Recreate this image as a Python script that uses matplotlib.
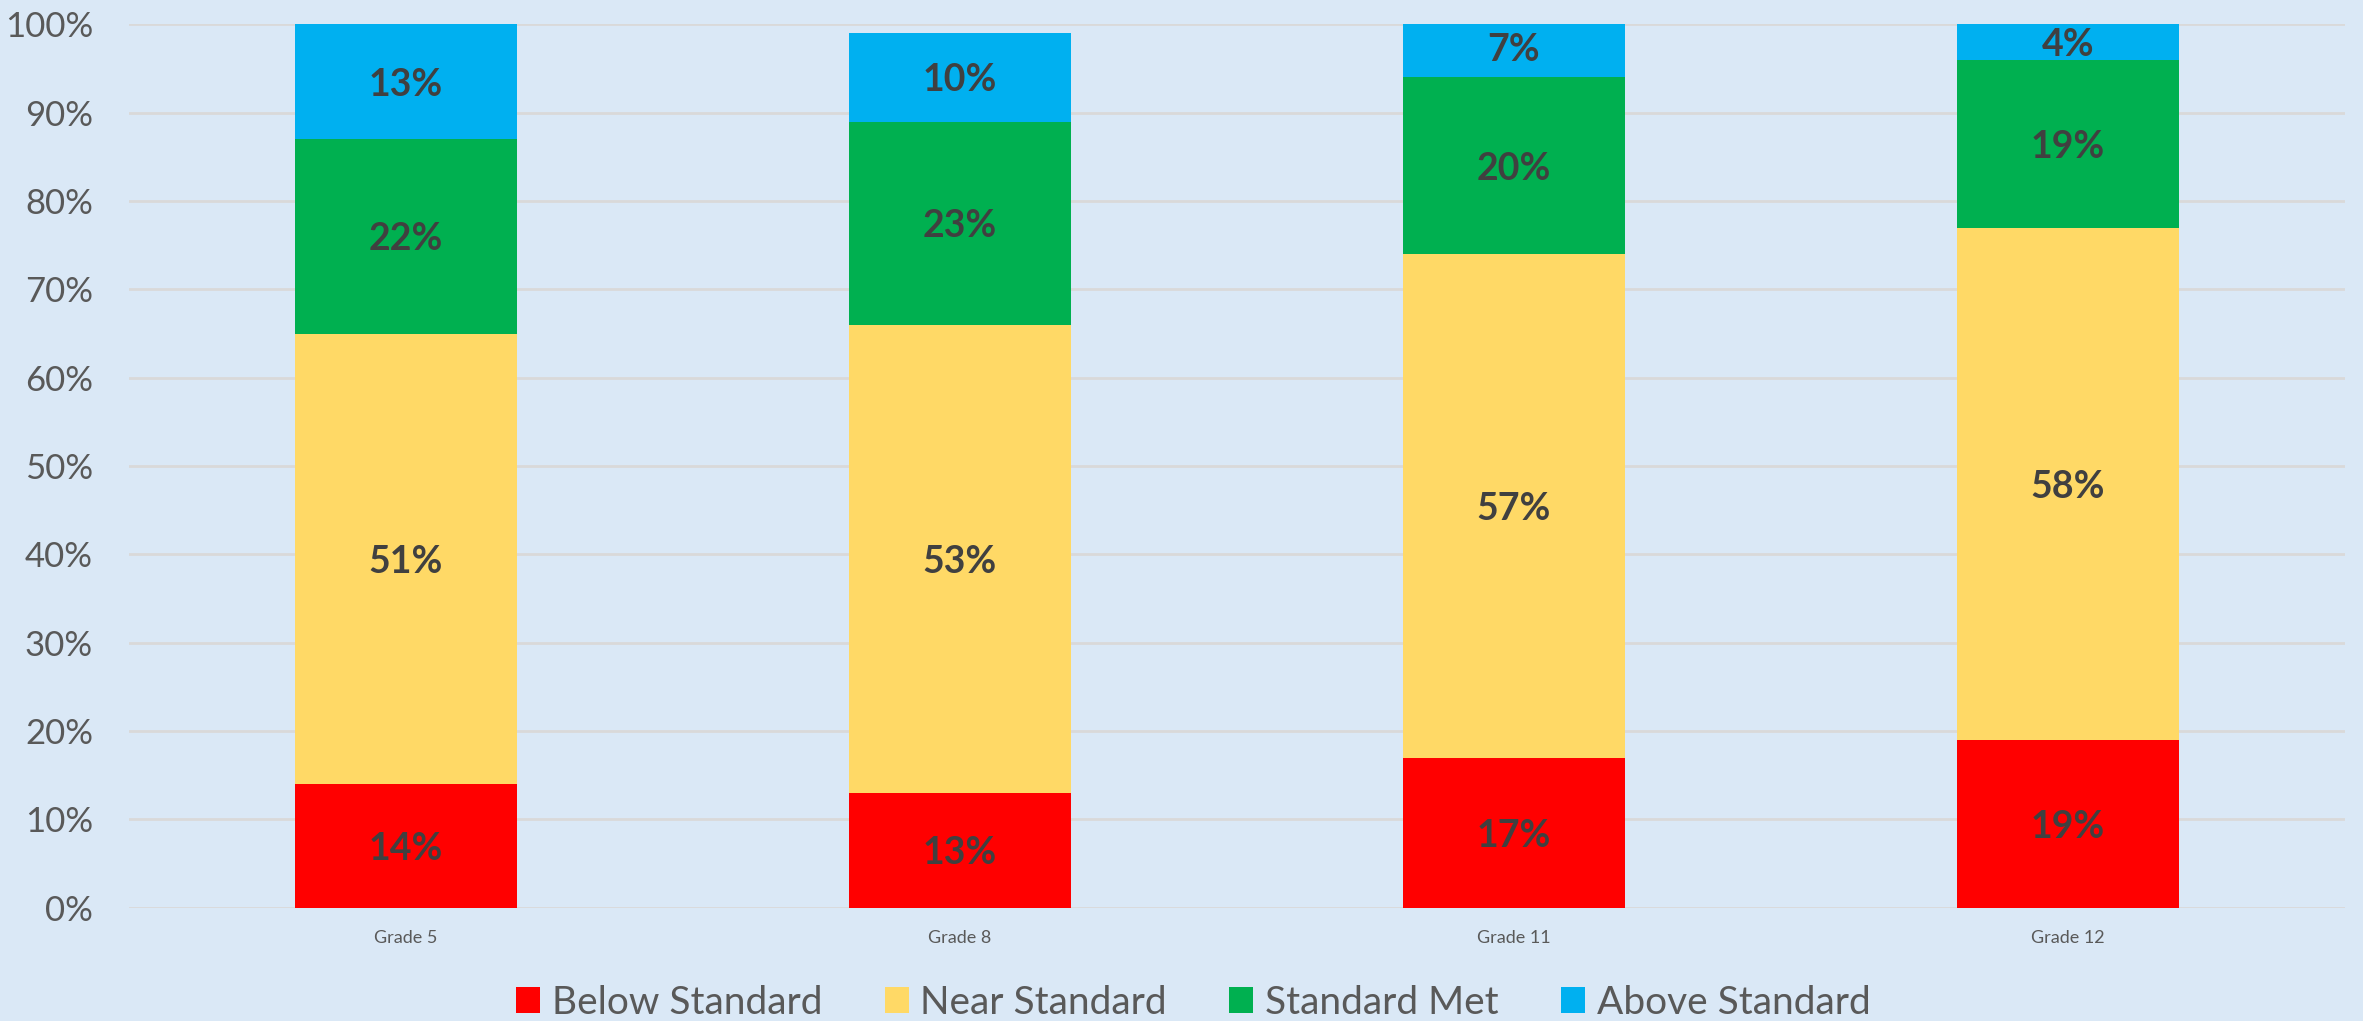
import matplotlib
matplotlib.use("Agg")
import matplotlib.pyplot as plt
import numpy as np

categories = ["Grade 5", "Grade 8", "Grade 11", "Grade 12"]
series_names = ["Below Standard", "Near Standard", "Standard Met", "Above Standard"]
below = [14, 13, 17, 19]
near = [51, 53, 57, 58]
met = [22, 23, 20, 19]
above = [13, 10, 7, 4]
yticks = [0, 10, 20, 30, 40, 50, 60, 70, 80, 90, 100]
ytick_labels = [f"{v}%" for v in yticks]

colors = ["#FF0000", "#FFD966", "#00B050", "#00B0F0"]
bg = "#DAE8F6"
plt.rcParams['font.family'] = ['Lato', 'DejaVu Sans']

fig = plt.figure(figsize=(23.63, 10.21), dpi=100)
fig.patch.set_facecolor(bg)
ax = fig.add_axes([129/2363, 1-907.7/1021, (2345-129)/2363, (907.7-24.5)/1021])
ax.set_facecolor("none")

x = np.arange(len(categories))
bottoms = np.zeros(len(categories))
for name, vals, col in zip(series_names, [below, near, met, above], colors):
    vals = np.array(vals, dtype=float)
    ax.bar(x, vals, 0.4, bottom=bottoms, color=col, label=name, zorder=3)
    for xi, b, v in zip(x, bottoms, vals):
        ax.text(xi, b + v/2, f"{int(v)}%", ha="center", va="center_baseline",
                fontsize=27, fontweight="bold", color="#404040", zorder=4)
    bottoms += vals

ax.set_xlim(-0.5, len(categories) - 0.5)
ax.set_ylim(0, 100)
ax.set_yticks(yticks)
ax.set_yticklabels(ytick_labels)
ax.set_xticks(x)
ax.set_xticklabels(categories)
ax.tick_params(axis="y", length=0, pad=26, labelsize=25, labelcolor="#595959")
ax.tick_params(axis="x", length=0, pad=16, labelsize=13, labelcolor="#595959")
ax.grid(axis="y", color="#D9D9D9", linewidth=2, zorder=0)
for s in ax.spines.values():
    s.set_visible(False)

fig.legend(loc="center", bbox_to_anchor=(0.505, 0.018), ncol=4, frameon=False,
           fontsize=28, handlelength=0.62, handleheight=0.62, handletextpad=0.3,
           columnspacing=1.6, labelcolor="#595959")

fig.savefig("out.png", dpi=100, facecolor=bg)
